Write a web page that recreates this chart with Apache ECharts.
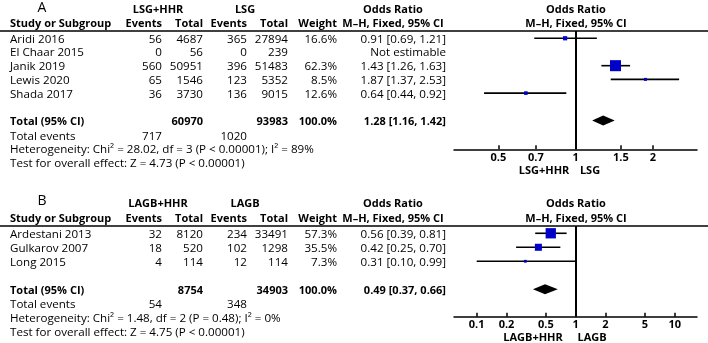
<!DOCTYPE html>
<html>
<head>
<meta charset="utf-8">
<script src="https://cdn.jsdelivr.net/npm/echarts@6/dist/echarts.min.js"></script>
<style>
  html, body { margin: 0; padding: 0; background: #fff; }
  #main { width: 708px; height: 343px; }
</style>
</head>
<body>
<div id="main"></div>
<script>
// ---- panel A: LSG+HHR vs LSG ----
const studiesA = ['Aridi 2016', 'El Chaar 2015', 'Janik 2019', 'Lewis 2020', 'Shada 2017']
const eventsExpA = [56, 0, 560, 65, 36]
const totalExpA = [4687, 56, 50951, 1546, 3730]
const eventsCtlA = [365, 0, 396, 123, 136]
const totalCtlA = [27894, 239, 51483, 5352, 9015]
const weightA = [16.6, null, 62.3, 8.5, 12.6]
const orA = [0.91, null, 1.43, 1.87, 0.64]
const loA = [0.69, null, 1.26, 1.37, 0.44]
const hiA = [1.21, null, 1.63, 2.53, 0.92]
const pooledA = [1.28, 1.16, 1.42]
const sumTotalsA = [60970, 93983]
const sumEventsA = [717, 1020]
const heteroA = 'Heterogeneity: Chi² = 28.02, df = 3 (P < 0.00001); I² = 89%'
const effectA = 'Test for overall effect: Z = 4.73 (P < 0.00001)'
const ticksA = [0.5, 0.7, 1, 1.5, 2]

// ---- panel B: LAGB+HHR vs LAGB ----
const studiesB = ['Ardestani 2013', 'Gulkarov 2007', 'Long 2015']
const eventsExpB = [32, 18, 4]
const totalExpB = [8120, 520, 114]
const eventsCtlB = [234, 102, 12]
const totalCtlB = [33491, 1298, 114]
const weightB = [57.3, 35.5, 7.3]
const orB = [0.56, 0.42, 0.31]
const loB = [0.39, 0.25, 0.10]
const hiB = [0.81, 0.70, 0.99]
const pooledB = [0.49, 0.37, 0.66]
const sumTotalsB = [8754, 34903]
const sumEventsB = [54, 348]
const heteroB = 'Heterogeneity: Chi² = 1.48, df = 2 (P = 0.48); I² = 0%'
const effectB = 'Test for overall effect: Z = 4.75 (P < 0.00001)'
const ticksB = [0.1, 0.2, 0.5, 1, 2, 5, 10]

const FONT = '"Open Sans", "DejaVu Sans", sans-serif'
const BLUE = '#0000c8'

// panel geometry (pixels) + row scale of each panel
const panels = [
  {
    tag: 'A', groups: ['LSG+HHR', 'LSG'], top: 31, height: 118.3, yMin: -0.53, yMax: 8.1,
    xMin: 0.336, xMax: 2.97, head1: 10, head2: 24, evY: 137, hetY: 150, effY: 163.5, subY: 171,
    sub: [['LSG+HHR', 544], ['LSG', 590]],
    studies: studiesA, ee: eventsExpA, te: totalExpA, ec: eventsCtlA, tc: totalCtlA,
    w: weightA, or: orA, lo: loA, hi: hiA, pooled: pooledA, sumT: sumTotalsA, sumE: sumEventsA,
    hetero: heteroA, effect: effectA, ticks: ticksA, totalRow: 6
  },
  {
    tag: 'B', groups: ['LAGB+HHR', 'LAGB'], top: 226, height: 90.7, yMin: -0.52, yMax: 5.96,
    xMin: 0.059, xMax: 16.8, head1: 203.5, head2: 218.5, evY: 305, hetY: 318.5, effY: 332.5, subY: 338,
    sub: [['LAGB+HHR', 533], ['LAGB', 592]],
    studies: studiesB, ee: eventsExpB, te: totalExpB, ec: eventsCtlB, tc: totalCtlB,
    w: weightB, or: orB, lo: loB, hi: hiB, pooled: pooledB, sumT: sumTotalsB, sumE: sumEventsB,
    hetero: heteroB, effect: effectB, ticks: ticksB, totalRow: 4
  }
]

const COL = { study: 10, ee: 162, te: 203, ec: 247, tc: 288, w: 337, or: 446, orMid: 393, plotMid: 576 }

function txt(s, x, y, align, bold, size) {
  return {
    type: 'text', silent: true,
    style: {
      text: String(s), x, y, textAlign: align || 'left', textVerticalAlign: 'middle',
      font: (bold ? 'bold ' : '') + (size || (bold ? 11 : 11.6)) + 'px ' + FONT, fill: '#000'
    }
  }
}

function rowY(p, row) {
  return p.top + (row - p.yMin) / (p.yMax - p.yMin) * p.height + 1.2
}

function fmtCI(o, l, h) {
  return o.toFixed(2) + ' [' + l.toFixed(2) + ', ' + h.toFixed(2) + ']'
}

const graphics = []
const grids = []
const xAxes = []
const yAxes = []
const series = []

panels.forEach((p, k) => {
  // header block
  graphics.push(txt(p.tag, 42, p.head1 - 2, 'center', false, 14))
  graphics.push(txt(p.groups[0], 158, p.head1, 'center', true))
  graphics.push(txt(p.groups[1], 245, p.head1, 'center', true))
  graphics.push(txt('Odds Ratio', COL.orMid, p.head1, 'center', true))
  graphics.push(txt('Odds Ratio', COL.plotMid, p.head1, 'center', true))
  graphics.push(txt('Study or Subgroup', COL.study, p.head2, 'left', true))
  graphics.push(txt('Events', COL.ee, p.head2, 'right', true))
  graphics.push(txt('Total', COL.te, p.head2, 'right', true))
  graphics.push(txt('Events', COL.ec, p.head2, 'right', true))
  graphics.push(txt('Total', COL.tc, p.head2, 'right', true))
  graphics.push(txt('Weight', COL.w, p.head2, 'right', true))
  graphics.push(txt('M\u2013H, Fixed, 95% CI', COL.orMid, p.head2, 'center', true))
  graphics.push(txt('M\u2013H, Fixed, 95% CI', COL.plotMid, p.head2, 'center', true))
  graphics.push({
    type: 'line', silent: true,
    shape: { x1: 0, y1: p.top, x2: 708, y2: p.top },
    style: { stroke: '#000', lineWidth: 1.6 }
  })

  // study rows
  p.studies.forEach((name, i) => {
    const y = rowY(p, i)
    graphics.push(txt(name, COL.study, y, 'left'))
    graphics.push(txt(p.ee[i], COL.ee, y, 'right'))
    graphics.push(txt(p.te[i], COL.te, y, 'right'))
    graphics.push(txt(p.ec[i], COL.ec, y, 'right'))
    graphics.push(txt(p.tc[i], COL.tc, y, 'right'))
    if (p.w[i] != null) {
      graphics.push(txt(p.w[i].toFixed(1) + '%', COL.w, y, 'right'))
      graphics.push(txt(fmtCI(p.or[i], p.lo[i], p.hi[i]), COL.or, y, 'right'))
    } else {
      graphics.push(txt('Not estimable', COL.or, y, 'right'))
    }
  })

  // totals
  const ty = rowY(p, p.totalRow)
  graphics.push(txt('Total (95% CI)', COL.study, ty, 'left', true))
  graphics.push(txt(p.sumT[0], COL.te, ty, 'right', true))
  graphics.push(txt(p.sumT[1], COL.tc, ty, 'right', true))
  graphics.push(txt('100.0%', COL.w, ty, 'right', true))
  graphics.push(txt(fmtCI(p.pooled[0], p.pooled[1], p.pooled[2]), COL.or, ty, 'right', true))
  graphics.push(txt('Total events', COL.study, p.evY, 'left'))
  graphics.push(txt(p.sumE[0], COL.ee, p.evY, 'right'))
  graphics.push(txt(p.sumE[1], COL.ec, p.evY, 'right'))
  graphics.push(txt(p.hetero, COL.study, p.hetY, 'left'))
  graphics.push(txt(p.effect, COL.study, p.effY, 'left'))
  p.sub.forEach(([s, x]) => graphics.push(txt(s, x, p.subY, 'center', true)))

  // plot area
  grids.push({ left: 454, width: 243, top: p.top, height: p.height })
  xAxes.push({
    type: 'log', gridIndex: k, min: p.xMin, max: p.xMax, logBase: 10,
    axisLine: { onZero: false, lineStyle: { color: '#000', width: 1.5 } },
    axisTick: { inside: true, length: 4, customValues: p.ticks, lineStyle: { color: '#000', width: 1.5 } },
    axisLabel: {
      customValues: p.ticks, margin: 3, color: '#000', fontSize: 11, fontWeight: 'bold', fontFamily: FONT,
      formatter: v => String(+v.toPrecision(3))
    },
    splitLine: { show: false }
  })
  yAxes.push({ type: 'value', gridIndex: k, inverse: true, min: p.yMin, max: p.yMax, show: false })

  const studyData = []
  p.studies.forEach((name, i) => {
    if (p.or[i] != null) studyData.push([p.or[i], p.lo[i], p.hi[i], i, p.w[i]])
  })
  series.push({
    type: 'custom', xAxisIndex: k, yAxisIndex: k, clip: false,
    data: studyData,
    renderItem: (params, api) => {
      const row = api.value(3)
      const a = api.coord([api.value(1), row])
      const b = api.coord([api.value(2), row])
      const m = api.coord([api.value(0), row])
      const side = 1.7 + 0.15 * api.value(4)
      return {
        type: 'group',
        children: [
          { type: 'line', shape: { x1: a[0], y1: a[1], x2: b[0], y2: b[1] }, style: { stroke: '#000', lineWidth: 1.6 } },
          { type: 'rect', shape: { x: m[0] - side / 2, y: m[1] - side / 2, width: side, height: side }, style: { fill: BLUE } }
        ]
      }
    },
    markLine: {
      silent: true, symbol: 'none', label: { show: false },
      lineStyle: { color: '#000', width: 2, type: 'solid' },
      data: [{ xAxis: 1 }]
    }
  })
  series.push({
    type: 'custom', xAxisIndex: k, yAxisIndex: k, clip: false,
    data: [[p.pooled[0], p.pooled[1], p.pooled[2], p.totalRow]],
    renderItem: (params, api) => {
      const row = api.value(3)
      const a = api.coord([api.value(1), row])
      const b = api.coord([api.value(2), row])
      const m = api.coord([api.value(0), row])
      return {
        type: 'polygon',
        shape: { points: [a, [m[0], m[1] - 5], b, [m[0], m[1] + 5]] },
        style: { fill: '#000' }
      }
    }
  })
})

const chart = echarts.init(document.getElementById('main'))
chart.setOption({
  animation: false,
  textStyle: { fontFamily: FONT },
  grid: grids,
  xAxis: xAxes,
  yAxis: yAxes,
  series,
  graphic: graphics
})
</script>
</body>
</html>
